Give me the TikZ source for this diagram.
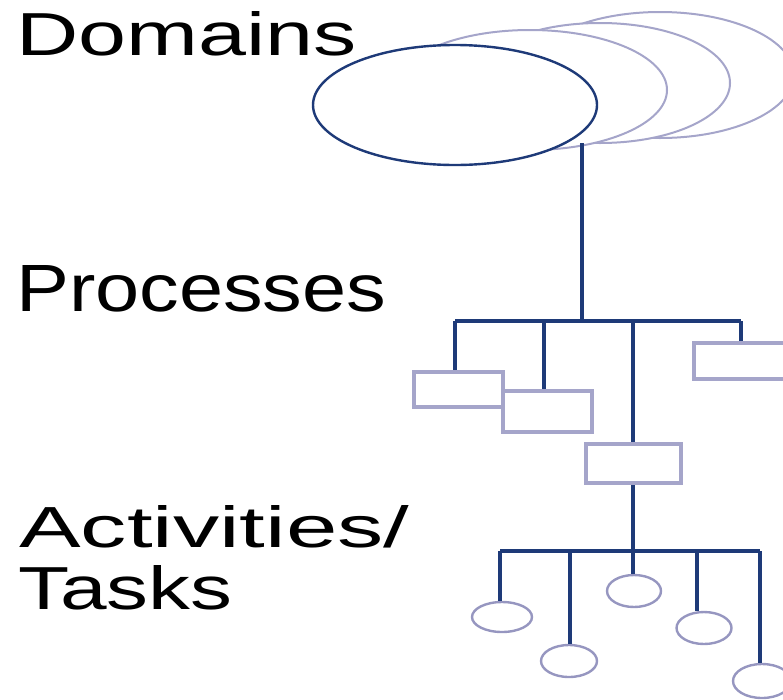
\documentclass[tikz,border=0pt]{standalone}
\usepackage{fontspec}
\setmainfont{Liberation Sans}
\usetikzlibrary{shapes.geometric}
\definecolor{navy}{RGB}{30,58,120}
\definecolor{lav}{RGB}{150,150,192}
\definecolor{lavlt}{RGB}{165,165,202}
\begin{document}
\begin{tikzpicture}[x=1pt,y=-1pt,
  link/.style={draw=navy,line width=3.6pt},
  domell/.style={ellipse,draw=lavlt,line width=2pt,fill=white,inner sep=0pt},
  mainD/.style={ellipse,draw=navy,line width=2.4pt,fill=white,inner sep=0pt},
  proc/.style={rectangle,draw=lavlt,line width=4.5pt,fill=white,inner sep=0pt},
  task/.style={ellipse,draw=lav,line width=2.4pt,fill=white,inner sep=0pt},
  lbl/.style={anchor=base west,inner sep=0pt}]
\useasboundingbox (0,0) rectangle (783,699);
\clip (0,0) rectangle (783,699);

% labels
\node[lbl] (tdom) at (16,55) {\resizebox{340pt}{44pt}{Domains}};
\node[lbl] (tproc) at (16,311) {\resizebox{370pt}{46pt}{Processes}};
\node[lbl] (tact) at (19,547) {\resizebox{390pt}{42pt}{Activities/}};
\node[lbl] (ttask) at (18,609) {\resizebox{214pt}{44pt}{Tasks}};

% domains
\node[domell,minimum width=268pt,minimum height=126pt] (d4) at (660,75) {};
\node[domell,minimum width=260pt,minimum height=120pt] (d3) at (600,83) {};
\node[domell,minimum width=274pt,minimum height=120pt] (d2) at (530,90) {};
\node[mainD,minimum width=284pt,minimum height=120pt] (d1) at (455,105) {};

% process level
\coordinate (top) at (582,143);
\coordinate (b1) at (582,321);
\coordinate (p1) at (455,321);
\coordinate (p2) at (544,321);
\coordinate (p3) at (633,321);
\coordinate (p4) at (741,321);
\draw[link] (top) -- (b1);
\draw[link] (p1) -- (p4);

\node[proc,minimum width=89pt,minimum height=35pt] (r1) at (458.5,389.5) {};
\node[proc,minimum width=89pt,minimum height=41pt] (r2) at (547.5,411.5) {};
\node[proc,minimum width=95pt,minimum height=39pt] (r3) at (633.5,463.5) {};
\node[proc,minimum width=92pt,minimum height=36pt] (r4) at (740,361) {};

\draw[link] (p1) -- (p1 |- r1.north);
\draw[link] (p2) -- (p2 |- r2.north);
\draw[link] (p3) -- (p3 |- r3.north);
\draw[link] (p4) -- (p4 |- r4.north);

% task level
\coordinate (t0) at (633,551);
\coordinate (t1) at (500,551);
\coordinate (t2) at (570,551);
\coordinate (t3) at (633,551);
\coordinate (t4) at (697,551);
\coordinate (t5) at (760,551);
\draw[link] (t0 |- r3.south) -- (t0);
\draw[link] (t1) -- (t5);

\node[task,minimum width=60pt,minimum height=30pt] (c1) at (502,617) {};
\node[task,minimum width=56pt,minimum height=32pt] (c2) at (569,661) {};
\node[task,minimum width=54pt,minimum height=32pt] (c3) at (634,591) {};
\node[task,minimum width=55pt,minimum height=32pt] (c4) at (704,628) {};
\node[task,minimum width=58pt,minimum height=34pt] (c5) at (762,681) {};

\draw[link] (t1) -- (t1 |- c1.north);
\draw[link] (t2) -- (t2 |- c2.north);
\draw[link] (t3) -- (t3 |- c3.north);
\draw[link] (t4) -- (t4 |- c4.north);
\draw[link] (t5) -- (t5 |- c5.north);
\end{tikzpicture}
\end{document}
